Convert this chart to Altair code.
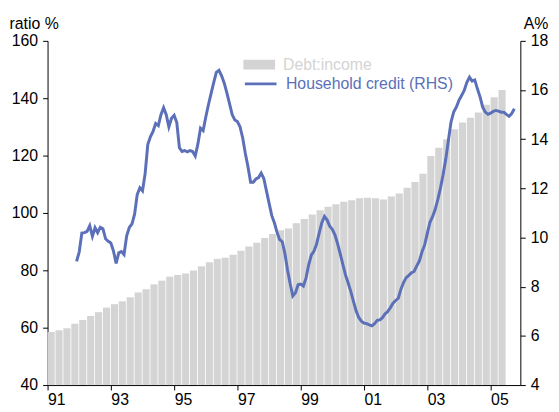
import altair as alt
import pandas as pd

# Debt-to-income ratio, quarterly from 1991 Q1 (per cent)
debt_income = [58.5, 59.1, 59.8, 61.4, 62.7, 64.1, 65.4, 67.0, 68.2, 69.2,
               70.6, 72.3, 73.4, 75.1, 76.4, 77.8, 78.4, 78.9, 79.9, 81.4,
               82.8, 84.0, 84.4, 85.4, 86.8, 88.3, 89.6, 91.3, 92.7, 94.0,
               94.6, 96.4, 97.9, 99.5, 100.9, 102.2, 103.0, 103.9, 104.4, 105.1,
               105.3, 105.1, 104.7, 105.7, 106.8, 108.8, 110.8, 113.7, 119.9, 122.7,
               125.7, 129.2, 131.5, 133.2, 135.0, 137.7, 140.3, 142.9]
bar_first_year = 1991

# Household credit growth, monthly from Dec 1991 (A%)
credit_first_month = 11  # months after Jan 1991
credit = [9.03, 9.41, 10.18, 10.20, 10.25, 10.48, 10.05, 10.40, 10.20, 10.42,
          10.36, 9.95, 9.85, 9.78, 9.45, 8.95, 9.38, 9.43, 9.31, 10.07,
          10.41, 10.55, 10.95, 11.75, 12.02, 11.90, 12.60, 13.78, 14.10, 14.32,
          14.64, 14.55, 15.00, 15.28, 15.00, 14.50, 14.85, 14.97, 14.68, 13.65,
          13.50, 13.54, 13.49, 13.54, 13.50, 13.32, 13.80, 14.45, 14.35, 14.90,
          15.40, 15.85, 16.30, 16.72, 16.80, 16.58, 16.28, 15.88, 15.45, 15.00,
          14.78, 14.72, 14.50, 14.05, 13.42, 12.88, 12.25, 12.25, 12.38, 12.44,
          12.62, 12.40, 11.90, 11.40, 10.90, 10.60, 10.22, 9.92, 9.83, 9.35,
          8.68, 8.12, 7.62, 7.75, 8.08, 8.11, 8.03, 8.35, 8.88, 9.28,
          9.44, 9.73, 10.18, 10.60, 10.86, 10.72, 10.46, 10.33, 10.10, 9.74,
          9.33, 8.90, 8.47, 8.15, 7.80, 7.40, 7.02, 6.75, 6.60, 6.52,
          6.50, 6.45, 6.41, 6.50, 6.63, 6.65, 6.74, 6.90, 6.99, 7.15,
          7.33, 7.44, 7.53, 7.90, 8.17, 8.37, 8.46, 8.57, 8.62, 8.85,
          9.05, 9.42, 9.70, 10.17, 10.62, 10.85, 11.15, 11.55, 12.02, 12.56,
          13.18, 13.96, 14.70, 15.10, 15.30, 15.58, 15.78, 15.98, 16.31, 16.52,
          16.36, 16.41, 16.05, 15.72, 15.30, 15.10, 15.01, 15.06, 15.13, 15.17,
          15.14, 15.10, 15.10, 15.01, 14.93, 15.04, 15.24]

left_ticks = [40, 60, 80, 100, 120, 140, 160]
right_ticks = [4, 6, 8, 10, 12, 14, 16, 18]
year_ticks = list(range(1991, 2006))

BAR_NAME = "Debt:income"
LINE_NAME = "Household credit (RHS)"
BAR_COLOR = "#d4d4d4"
LINE_COLOR = "#5b70b8"
FONT = "Liberation Sans"

bars = pd.DataFrame({
    "start": [bar_first_year + i / 4 for i in range(len(debt_income))],
    "end": [bar_first_year + (i + 1) / 4 for i in range(len(debt_income))],
    "ratio": debt_income,
    "series": BAR_NAME,
})
line = pd.DataFrame({
    "t": [1991 + (credit_first_month + k) / 12 for k in range(len(credit))],
    "growth": credit,
    "series": LINE_NAME,
})

x_scale = alt.Scale(domain=[1991, 2005.94], nice=False, zero=False)
x_axis = alt.Axis(
    values=year_ticks,
    labelExpr="datum.value % 2 == 1 ? format(datum.value % 100, '02d') : ''",
    labelAlign="left", labelBaseline="top", labelPadding=2, labelOverlap=False,
    labelFlush=False, tickSize=5, title=None, grid=False,
)

bar_layer = alt.Chart(bars).mark_bar(x2Offset=-0.8).encode(
    x=alt.X("start:Q", scale=x_scale, axis=x_axis),
    x2="end:Q",
    y=alt.Y("ratio:Q", scale=alt.Scale(domain=[40, 160], nice=False, zero=False),
            axis=alt.Axis(values=left_ticks, title="ratio %", titleAngle=0,
                          titleAlign="left", titleBaseline="alphabetic",
                          titleX=-39, titleY=-12, tickSize=5, labelPadding=5,
                          grid=False)),
    y2=alt.datum(40),
    fill=alt.Fill("series:N", scale=alt.Scale(domain=[BAR_NAME], range=[BAR_COLOR]),
                  legend=alt.Legend(orient="none", legendX=198, legendY=8,
                                    title=None, padding=0,
                                    symbolType="M-1,-0.31H1V0.31H-1Z",
                                    symbolSize=1024, symbolStrokeWidth=0,
                                    labelColor=BAR_COLOR, labelOffset=8,
                                    labelLimit=400)),
)

line_layer = alt.Chart(line).mark_line(strokeWidth=3).encode(
    x=alt.X("t:Q", scale=x_scale),
    y=alt.Y("growth:Q", scale=alt.Scale(domain=[4, 18], nice=False, zero=False),
            axis=alt.Axis(orient="right", values=right_ticks, title="A%",
                          titleAngle=0, titleAlign="left",
                          titleBaseline="alphabetic", titleX=3, titleY=-12,
                          tickSize=5, labelPadding=5, grid=False)),
    stroke=alt.Stroke("series:N", scale=alt.Scale(domain=[LINE_NAME], range=[LINE_COLOR]),
                      legend=alt.Legend(orient="none", legendX=198, legendY=26,
                                        title=None, padding=0,
                                        symbolType="stroke", symbolSize=1024,
                                        symbolStrokeWidth=3,
                                        labelColor=LINE_COLOR, labelOffset=8,
                                        labelLimit=400)),
)

chart = alt.layer(bar_layer, line_layer).resolve_scale(
    y="independent", fill="independent", stroke="independent"
).properties(
    width=478, height=348, autosize="none",
    padding={"left": 40, "top": 31, "right": 31, "bottom": 23},
).configure(
    font=FONT,
).configure_axis(
    labelFont=FONT, titleFont=FONT, labelFontSize=16, titleFontSize=16,
    titleFontWeight="normal", labelColor="black", titleColor="black",
    domainColor="black", tickColor="black", domainWidth=1, tickWidth=1,
).configure_legend(
    labelFont=FONT, labelFontSize=16,
).configure_view(stroke=None)

chart.save("out.html", embed_options={"renderer": "svg", "actions": False})
